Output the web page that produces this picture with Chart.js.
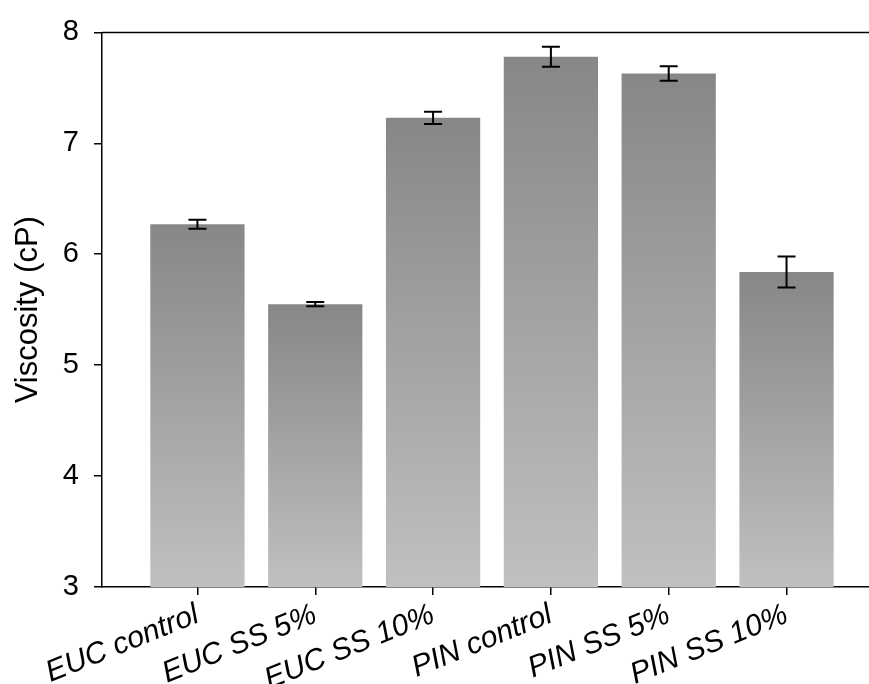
<!DOCTYPE html>
<html>
<head>
<meta charset="utf-8">
<script src="https://cdn.jsdelivr.net/npm/chart.js@4/dist/chart.umd.min.js"></script>
<style>
    html, body { margin: 0; padding: 0; background: #fff; }
    #wrap { width: 869px; height: 684px; }
</style>
</head>
<body>
<div id="wrap"><canvas id="viscosity-chart" width="869" height="684"></canvas></div>
<script>
// Data
const categories = ['EUC control', 'EUC SS 5%', 'EUC SS 10%', 'PIN control', 'PIN SS 5%', 'PIN SS 10%'];
const viscosity = [6.27, 5.55, 7.23, 7.78, 7.63, 5.84];
const viscosityErr = [0.04, 0.02, 0.055, 0.09, 0.065, 0.14];
const yTicks = [3, 4, 5, 6, 7, 8];

const FONT = "'Liberation Sans', Arial, sans-serif";

// gradient per bar: dark at top, light at the base
function barGradient(context) {
    const chart = context.chart;
    if (!chart.chartArea || !chart.scales.y || !context.raw) return '#a0a0a0';
    const yScale = chart.scales.y;
    const top = yScale.getPixelForValue(context.raw.y);
    const bottom = yScale.getPixelForValue(yScale.min);
    const g = chart.ctx.createLinearGradient(0, top, 0, bottom);
    g.addColorStop(0, '#878787');
    g.addColorStop(1, '#c0c0c0');
    return g;
}

// error bars + top frame line
const errorBarPlugin = {
    id: 'errorBars',
    afterDatasetsDraw(chart) {
        const { ctx, scales: { x, y }, chartArea } = chart;
        ctx.save();
        ctx.strokeStyle = '#000';
        ctx.lineWidth = 1.5;
        ctx.beginPath();
        ctx.moveTo(chartArea.left, chartArea.top);
        ctx.lineTo(chartArea.right, chartArea.top);
        ctx.stroke();

        ctx.lineWidth = 2;
        viscosity.forEach((v, i) => {
            const px = x.getPixelForValue(i);
            const hi = y.getPixelForValue(v + viscosityErr[i]);
            const lo = y.getPixelForValue(v - viscosityErr[i]);
            ctx.beginPath();
            ctx.moveTo(px, hi);
            ctx.lineTo(px, lo);
            ctx.moveTo(px - 9, hi);
            ctx.lineTo(px + 9, hi);
            ctx.moveTo(px - 9, lo);
            ctx.lineTo(px + 9, lo);
            ctx.stroke();
        });
        ctx.restore();
    }
};

const ctx = document.getElementById('viscosity-chart').getContext('2d');
new Chart(ctx, {
    type: 'bar',
    data: {
        datasets: [{
            label: 'Viscosity',
            data: viscosity.map((v, i) => ({ x: i, y: v })),
            backgroundColor: barGradient,
            borderWidth: 0,
            categoryPercentage: 0.8,
            barPercentage: 1.0
        }]
    },
    options: {
        responsive: false,
        animation: false,
        layout: { padding: { top: 29, right: 0, left: 0, bottom: 0 } },
        plugins: {
            legend: { display: false },
            tooltip: { enabled: false }
        },
        scales: {
            x: {
                type: 'linear',
                offset: false,
                min: -0.81,
                max: 5.70,
                afterBuildTicks: scale => {
                    scale.ticks = categories.map((_, i) => ({ value: i }));
                },
                afterFit: scale => { scale.height = 97; },
                ticks: {
                    callback: value => categories[value] ?? '',
                    minRotation: 22,
                    maxRotation: 22,
                    padding: 2,
                    color: '#000',
                    font: { family: FONT, size: 30, style: 'italic' }
                },
                grid: {
                    display: true,
                    offset: false,
                    drawOnChartArea: false,
                    drawTicks: true,
                    tickLength: 8,
                    color: '#000',
                    lineWidth: 1.5
                },
                border: { display: true, color: '#000', width: 1.5 }
            },
            y: {
                min: 3,
                max: 8,
                afterBuildTicks: scale => {
                    scale.ticks = yTicks.map(v => ({ value: v }));
                },
                afterFit: scale => { scale.width = 102; },
                ticks: {
                    padding: 15,
                    color: '#000',
                    font: { family: FONT, size: 29 }
                },
                grid: {
                    display: true,
                    drawOnChartArea: false,
                    drawTicks: true,
                    tickLength: 8,
                    color: '#000',
                    lineWidth: 1.5
                },
                border: { display: true, color: '#000', width: 1.5 },
                title: {
                    display: true,
                    text: 'Viscosity (cP)',
                    color: '#000',
                    padding: { top: 10, bottom: 0 },
                    font: { family: FONT, size: 31 }
                }
            }
        }
    },
    plugins: [errorBarPlugin]
});
</script>
</body>
</html>
